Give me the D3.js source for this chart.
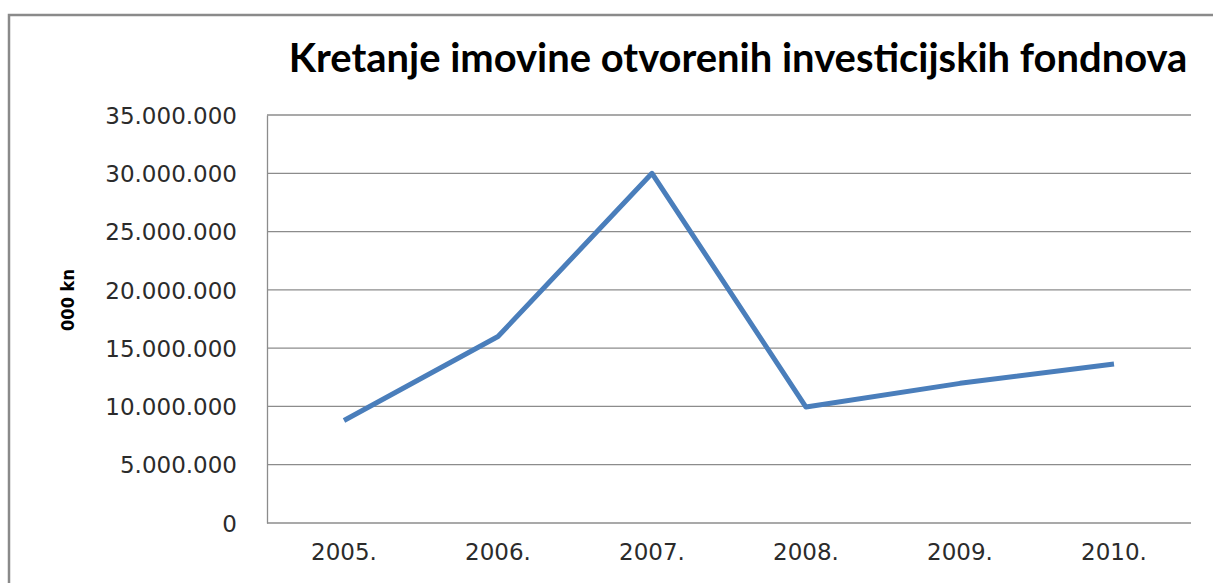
<!DOCTYPE html>
<html lang="hr">
<head>
<meta charset="UTF-8">
<title>Kretanje imovine otvorenih investicijskih fondnova</title>
<script src="https://cdnjs.cloudflare.com/ajax/libs/d3/7.8.5/d3.min.js"></script>
<style>
  * { margin: 0; padding: 0; }
  body { background: #fff; overflow: hidden; }
  svg { display: block; font-family: Lato, "Open Sans", sans-serif; }
  .grid line { stroke: #8c8c8c; stroke-width: 1.3; }
  .axis path, .axis line { stroke: #8c8c8c; stroke-width: 1.3; }
  .axis text { fill: #2b2b2b; font-size: 23px; font-family: "DejaVu Sans", sans-serif; }
</style>
</head>
<body>
<svg id="chart" width="1213" height="583"></svg>
<script>
// data (000 kn)
var years = ['2005.', '2006.', '2007.', '2008.', '2009.', '2010.'];
var assets = [8790000, 16000000, 30000000, 9950000, 11980000, 13640000];
var yTicks = [0, 5000000, 10000000, 15000000, 20000000, 25000000, 30000000, 35000000];

var svg = d3.select('#chart');
var plotLeft = 267, plotRight = 1191, plotTop = 115, plotBottom = 523;

// outer chart border (runs off the right/bottom of the picture)
svg.append('rect')
  .attr('x', 9).attr('y', 15)
  .attr('width', 1220).attr('height', 600)
  .attr('fill', 'none')
  .attr('stroke', '#8a8a8a')
  .attr('stroke-width', 2.5);

var x = d3.scaleBand().domain(years).range([plotLeft, plotRight]);
var y = d3.scaleLinear().domain([0, 35000000]).range([plotBottom, plotTop]);

var fmt = function(d) {
  return String(d).replace(/\B(?=(\d{3})+(?!\d))/g, '.');
};

// horizontal gridlines
svg.append('g').attr('class', 'grid')
  .selectAll('line')
  .data(yTicks.slice(1))
  .enter().append('line')
  .attr('x1', plotLeft).attr('x2', plotRight)
  .attr('y1', function(d) { return y(d); })
  .attr('y2', function(d) { return y(d); });

var yAxis = svg.append('g').attr('class', 'axis')
  .attr('transform', 'translate(' + plotLeft + ',0)')
  .call(d3.axisLeft(y).tickValues(yTicks).tickFormat(fmt).tickSize(0).tickPadding(30));
yAxis.selectAll('text').attr('dy', '0.36em');

var xAxis = svg.append('g').attr('class', 'axis')
  .attr('transform', 'translate(0,' + plotBottom + ')')
  .call(d3.axisBottom(x).tickSize(0).tickPadding(21));
xAxis.select('.domain').attr('d', 'M' + plotLeft + ',0H' + plotRight);

// series line
var line = d3.line()
  .x(function(d, i) { return x(years[i]) + x.bandwidth() / 2; })
  .y(function(d) { return y(d); });

svg.append('path')
  .datum(assets)
  .attr('d', line)
  .attr('fill', 'none')
  .attr('stroke', '#4a7ebb')
  .attr('stroke-width', 5)
  .attr('stroke-linejoin', 'round');

// title
var title = svg.append('text')
  .attr('x', 738).attr('y', 72)
  .attr('text-anchor', 'middle')
  .style('font-weight', 'bold')
  .style('font-size', '30px')
  .attr('fill', '#000')
  .text('Kretanje imovine otvorenih investicijskih fondnova');
var tw = title.node().getComputedTextLength();
title.style('font-size', (30 * 899 / tw) + 'px');

// y axis label
var ylab = svg.append('text')
  .attr('transform', 'translate(74,300) rotate(-90)')
  .attr('text-anchor', 'middle')
  .style('font-family', '"Liberation Sans Narrow", "DejaVu Sans Condensed", sans-serif')
  .style('font-weight', 'bold')
  .style('font-size', '20px')
  .attr('fill', '#000')
  .text('000 kn');
var lw = ylab.node().getComputedTextLength();
ylab.style('font-size', (20 * 62 / lw) + 'px');
</script>
</body>
</html>
